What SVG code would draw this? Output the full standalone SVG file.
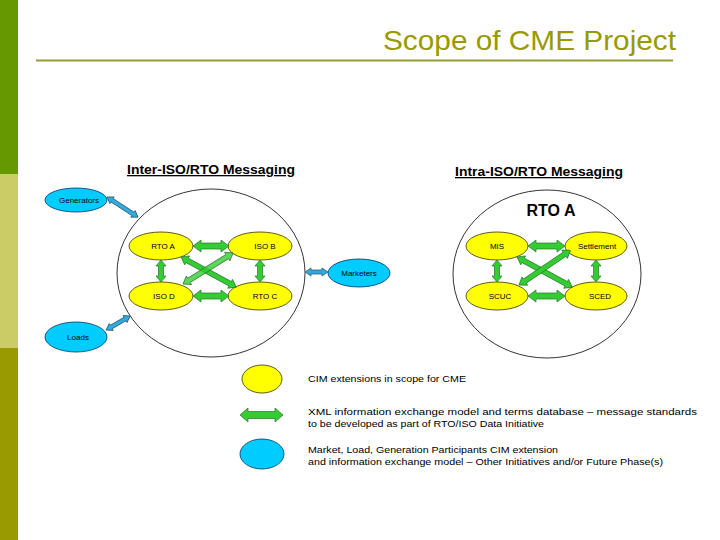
<svg xmlns="http://www.w3.org/2000/svg" width="720" height="540" viewBox="0 0 720 540">
<style>
.lbl{font-family:"Liberation Sans",Arial,sans-serif;font-size:8px;fill:#000;text-anchor:middle}
.head{font-family:"Liberation Sans",Arial,sans-serif;font-size:13px;font-weight:bold;fill:#000;text-anchor:middle;text-decoration:underline}
.leg{font-family:"Liberation Sans",Arial,sans-serif;font-size:9px;fill:#000}
.yel{fill:#FFFF00;stroke:#333300;stroke-width:0.8}
.blu{fill:#00CCFF;stroke:#003366;stroke-width:0.8}
.big{fill:none;stroke:#000;stroke-width:0.8}
.ga{fill:#33CC33;stroke:#267326;stroke-width:0.7}
.ba{fill:#33AADD;stroke:#1F4F6F;stroke-width:0.7}
</style>
<rect x="0" y="0" width="720" height="540" fill="#fff"/>
<rect x="0" y="0" width="18" height="174" fill="#669900"/>
<rect x="0" y="174" width="18" height="174" fill="#CCCC66"/>
<rect x="0" y="348" width="18" height="192" fill="#999900"/>
<text x="383" y="50" font-family="Liberation Sans,Arial,sans-serif" font-size="28" fill="#999900" textLength="293" lengthAdjust="spacingAndGlyphs">Scope of CME Project</text>
<line x1="36" y1="60.5" x2="673" y2="60.5" stroke="#999933" stroke-width="2"/>

<text class="head" x="211" y="174" textLength="168" lengthAdjust="spacingAndGlyphs">Inter-ISO/RTO Messaging</text>
<text class="head" x="539" y="176" textLength="168" lengthAdjust="spacingAndGlyphs">Intra-ISO/RTO Messaging</text>

<g id="inter-circle"><ellipse class="big" cx="211" cy="273" rx="94" ry="84"/></g>
<g id="intra-circle"><ellipse class="big" cx="547" cy="274" rx="94" ry="84"/>
<text x="551" y="216" font-family="Liberation Sans,Arial,sans-serif" font-size="16" font-weight="bold" text-anchor="middle">RTO A</text></g>

<g id="rtoa"><ellipse class="yel" cx="161" cy="246" rx="32" ry="14"/><text class="lbl" x="163" y="249">RTO A</text></g>
<g id="isob"><ellipse class="yel" cx="260" cy="246" rx="32" ry="14"/><text class="lbl" x="265" y="249">ISO B</text></g>
<g id="isod"><ellipse class="yel" cx="161" cy="296" rx="32" ry="14"/><text class="lbl" x="164" y="299">ISO D</text></g>
<g id="rtoc"><ellipse class="yel" cx="260" cy="296" rx="32" ry="14"/><text class="lbl" x="265" y="299">RTO C</text></g>

<g id="mis"><ellipse class="yel" cx="497" cy="246" rx="31" ry="14"/><text class="lbl" x="497" y="249">MIS</text></g>
<g id="settlement"><ellipse class="yel" cx="596" cy="246" rx="31" ry="14"/><text class="lbl" x="597" y="249">Settlement</text></g>
<g id="scuc"><ellipse class="yel" cx="497" cy="296" rx="31" ry="14"/><text class="lbl" x="500" y="299">SCUC</text></g>
<g id="sced"><ellipse class="yel" cx="596" cy="296" rx="31" ry="14"/><text class="lbl" x="600" y="299">SCED</text></g>

<g id="generators"><ellipse class="blu" cx="76" cy="200" rx="31" ry="12"/><text class="lbl" x="79" y="203">Generators</text></g>
<g id="loads"><ellipse class="blu" cx="76" cy="337" rx="31" ry="15"/><text class="lbl" x="78" y="340">Loads</text></g>
<g id="marketers"><ellipse class="blu" cx="359" cy="273" rx="31" ry="14"/><text class="lbl" x="359" y="276">Marketers</text></g>

<g id="connectors">
<path class="ga" transform="translate(193,246)" d="M0,0 L8,-6 L8,-3 L28,-3 L28,-6 L36,0 L28,6 L28,3 L8,3 L8,6 Z"/>
<path class="ga" transform="translate(193,296)" d="M0,0 L8,-6 L8,-3 L28,-3 L28,-6 L36,0 L28,6 L28,3 L8,3 L8,6 Z"/>
<path class="ga" transform="translate(161,260) rotate(90)" d="M0,0 L6,-5 L6,-2.5 L16,-2.5 L16,-5 L22,0 L16,5 L16,2.5 L6,2.5 L6,5 Z"/>
<path class="ga" transform="translate(260,260) rotate(90)" d="M0,0 L6,-5 L6,-2.5 L16,-2.5 L16,-5 L22,0 L16,5 L16,2.5 L6,2.5 L6,5 Z"/>
<path class="ga" transform="translate(181,257) rotate(28.6)" d="M0,0 L7,-5 L7,-2.5 L56,-2.5 L56,-5 L63,0 L56,5 L56,2.5 L7,2.5 L7,5 Z"/>
<path class="ga" transform="translate(183,284) rotate(-31.8)" d="M0,0 L7,-5 L7,-2.5 L52,-2.5 L52,-5 L59,0 L52,5 L52,2.5 L7,2.5 L7,5 Z" fill-opacity="0.8"/>

<path class="ga" transform="translate(528,246)" d="M0,0 L8,-6 L8,-3 L29,-3 L29,-6 L37,0 L29,6 L29,3 L8,3 L8,6 Z"/>
<path class="ga" transform="translate(528,296)" d="M0,0 L8,-6 L8,-3 L29,-3 L29,-6 L37,0 L29,6 L29,3 L8,3 L8,6 Z"/>
<path class="ga" transform="translate(497,260) rotate(90)" d="M0,0 L6,-5 L6,-2.5 L16,-2.5 L16,-5 L22,0 L16,5 L16,2.5 L6,2.5 L6,5 Z"/>
<path class="ga" transform="translate(596,260) rotate(90)" d="M0,0 L6,-5 L6,-2.5 L16,-2.5 L16,-5 L22,0 L16,5 L16,2.5 L6,2.5 L6,5 Z"/>
<path class="ga" transform="translate(517,257) rotate(28.6)" d="M0,0 L7,-5 L7,-2.5 L56,-2.5 L56,-5 L63,0 L56,5 L56,2.5 L7,2.5 L7,5 Z"/>
<path class="ga" transform="translate(519,285) rotate(-34)" d="M0,0 L7,-5 L7,-2.5 L55,-2.5 L55,-5 L62,0 L55,5 L55,2.5 L7,2.5 L7,5 Z"/>

<path class="ba" transform="translate(107,197) rotate(33)" d="M0,0 L6,-4 L6,-2 L31,-2 L31,-4 L37,0 L31,4 L31,2 L6,2 L6,4 Z"/>
<path class="ba" transform="translate(106,330) rotate(-30)" d="M0,0 L6,-4 L6,-2 L22,-2 L22,-4 L28,0 L22,4 L22,2 L6,2 L6,4 Z"/>
<path class="ba" transform="translate(305,272)" d="M0,0 L6,-4 L6,-2 L17,-2 L17,-4 L23,0 L17,4 L17,2 L6,2 L6,4 Z"/>
</g>

<g id="legend">
<ellipse class="yel" cx="262" cy="379" rx="20" ry="14"/>
<path class="ga" transform="translate(240,415)" d="M0,0 L8,-7 L8,-3.5 L35,-3.5 L35,-7 L43,0 L35,7 L35,3.5 L8,3.5 L8,7 Z"/>
<ellipse class="blu" cx="262" cy="454" rx="22" ry="15"/>
<text class="leg" x="308" y="382" textLength="158" lengthAdjust="spacingAndGlyphs">CIM extensions in scope for CME</text>
<text class="leg" x="308" y="415" textLength="389" lengthAdjust="spacingAndGlyphs">XML information exchange model and terms database – message standards</text>
<text class="leg" x="308" y="427" textLength="236" lengthAdjust="spacingAndGlyphs">to be developed as part of RTO/ISO Data Initiative</text>
<text class="leg" x="308" y="453" textLength="250" lengthAdjust="spacingAndGlyphs">Market, Load, Generation Participants CIM extension</text>
<text class="leg" x="308" y="465" textLength="355" lengthAdjust="spacingAndGlyphs">and information exchange model – Other Initiatives and/or Future Phase(s)</text>
</g>
</svg>
